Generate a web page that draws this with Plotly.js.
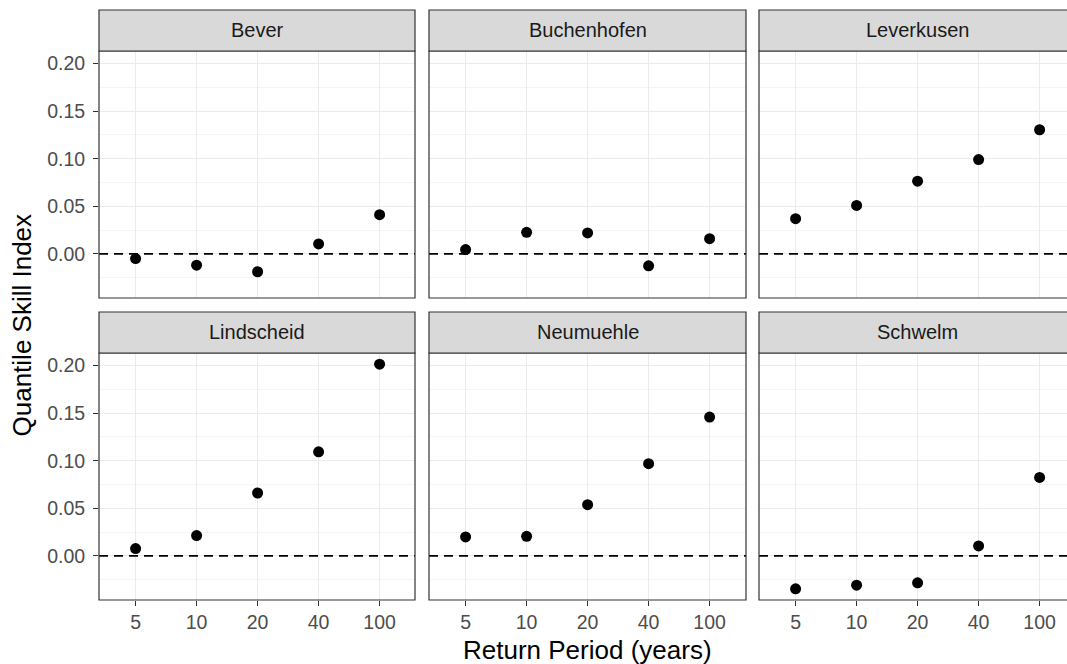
<!DOCTYPE html>
<html>
<head>
<meta charset="utf-8">
<script src="https://cdn.plot.ly/plotly-3.0.1.min.js"></script>
<style>html,body{margin:0;padding:0;background:#fff;}#chart{width:1067px;height:664px;}</style>
</head>
<body>
<div id="chart"></div>
<script>
// ---- data ----
const returnPeriods = ["5", "10", "20", "40", "100"];
const stations = ["Bever", "Buchenhofen", "Leverkusen", "Lindscheid", "Neumuehle", "Schwelm"];
const bever       = [-0.0049, -0.0119, -0.0188, 0.0105, 0.0412];
const buchenhofen = [0.0045, 0.0226, 0.0220, -0.0126, 0.0160];
const leverkusen  = [0.0370, 0.0509, 0.0764, 0.0991, 0.1305];
const lindscheid  = [0.0077, 0.0213, 0.0661, 0.1094, 0.2015];
const neumuehle   = [0.0199, 0.0206, 0.0538, 0.0969, 0.1459];
const schwelm     = [-0.0346, -0.0308, -0.0283, 0.0105, 0.0825];
const seriesValues = [bever, buchenhofen, leverkusen, lindscheid, neumuehle, schwelm];
const yTickVals = [0, 0.05, 0.10, 0.15, 0.20];
const yTickText = ["0.00", "0.05", "0.10", "0.15", "0.20"];
const xTitle = "Return Period (years)";
const yTitle = "Quantile Skill Index";

// ---- layout geometry (pixels) ----
const W = 1067, H = 664;
const colPx = [[99, 415], [429, 746], [759, 1067]];
const colFull = [316, 317, 317]; // full panel widths (last panel is cut by the image edge)
const rowPx = [[51, 298], [353, 600]];
const stripH = 41;
const pxPerCat = 61;

const allVals = seriesValues.flat();
const vmin = Math.min(...allVals), vmax = Math.max(...allVals);
const pad = (vmax - vmin) * 0.05;
const yRange = [vmin - pad, vmax + pad];

const FONT = "Liberation Sans, Arial, sans-serif";
const TICK = 19.5, STRIP = 20, TITLE = 26;
const traces = [];
const layout = {
  width: W, height: H,
  margin: {l: 0, r: 0, t: 0, b: 0},
  paper_bgcolor: "#ffffff", plot_bgcolor: "#ffffff",
  showlegend: false,
  font: {family: FONT, color: "#4D4D4D", size: TICK},
  shapes: [], annotations: []
};

stations.forEach((st, i) => {
  const r = Math.floor(i / 3), c = i % 3;
  const n = i + 1;
  const xa = "xaxis" + (n === 1 ? "" : n), ya = "yaxis" + (n === 1 ? "" : n);
  const xr = "x" + (n === 1 ? "" : n), yr = "y" + (n === 1 ? "" : n);
  const [x0, x1] = colPx[c];
  const [y0, y1] = rowPx[r];
  const wpx = x1 - x0;
  traces.push({
    type: "scatter", mode: "markers",
    x: returnPeriods, y: seriesValues[i],
    xaxis: xr, yaxis: yr,
    marker: {color: "#000000", size: 11},
    hoverinfo: "x+y"
  });
  layout[xa] = {
    domain: [x0 / W, x1 / W],
    type: "category",
    categoryarray: returnPeriods, categoryorder: "array",
    range: [-0.6, -0.6 + wpx / pxPerCat],
    showgrid: true, gridcolor: "#EBEBEB", gridwidth: 1.1,
    zeroline: false, showline: false,
    ticks: r === 1 ? "outside" : "", ticklen: 5, tickwidth: 1.1, tickcolor: "#333333",
    showticklabels: r === 1,
    tickfont: {family: FONT, size: TICK, color: "#4D4D4D"},
    anchor: yr, fixedrange: true
  };
  layout[ya] = {
    domain: [1 - y1 / H, 1 - y0 / H],
    range: yRange,
    tickvals: yTickVals, ticktext: yTickText,
    showgrid: true, gridcolor: "#EBEBEB", gridwidth: 1.1,
    minor: {tickvals: [-0.025, 0.025, 0.075, 0.125, 0.175], showgrid: true, gridcolor: "#EBEBEB", gridwidth: 0.55, ticks: ""},
    zeroline: false, showline: false,
    ticks: c === 0 ? "outside" : "", ticklen: 5, tickwidth: 1.1, tickcolor: "#333333",
    ticklabelstandoff: 4,
    showticklabels: c === 0,
    tickfont: {family: FONT, size: TICK, color: "#4D4D4D"},
    anchor: xr, fixedrange: true
  };
  const fullFrac = colFull[c] / wpx;
  // dashed zero line
  layout.shapes.push({
    type: "line", xref: xr + " domain", yref: yr, x0: 0, x1: fullFrac, y0: 0, y1: 0,
    line: {color: "#000000", width: 1.7, dash: "9px,6px"}, layer: "above"
  });
  // panel border
  layout.shapes.push({
    type: "rect", xref: xr + " domain", yref: yr + " domain", x0: 0, x1: fullFrac, y0: 0, y1: 1,
    line: {color: "#333333", width: 1.2}, fillcolor: "rgba(0,0,0,0)", layer: "above"
  });
  // strip
  const sh = stripH / (y1 - y0);
  layout.shapes.push({
    type: "rect", xref: xr + " domain", yref: yr + " domain", x0: 0, x1: fullFrac, y0: 1, y1: 1 + sh,
    line: {color: "#333333", width: 1.2}, fillcolor: "#D9D9D9", layer: "above"
  });
  layout.annotations.push({
    text: st, xref: xr + " domain", yref: yr + " domain",
    x: fullFrac / 2, y: 1 + sh / 2, xanchor: "center", yanchor: "middle",
    showarrow: false, font: {family: FONT, size: STRIP, color: "#1A1A1A"}
  });
});

layout.annotations.push({
  text: xTitle, xref: "paper", yref: "paper", x: 587.5 / W, y: 1 - 650 / H,
  xanchor: "center", yanchor: "middle", showarrow: false,
  font: {family: FONT, size: TITLE, color: "#000000"}
});
layout.annotations.push({
  text: yTitle, xref: "paper", yref: "paper", x: 21 / W, y: 1 - 325.5 / H,
  xanchor: "center", yanchor: "middle", textangle: -90, showarrow: false,
  font: {family: FONT, size: TITLE, color: "#000000"}
});

Plotly.newPlot("chart", traces, layout, {displayModeBar: false, staticPlot: true});
</script>
</body>
</html>
